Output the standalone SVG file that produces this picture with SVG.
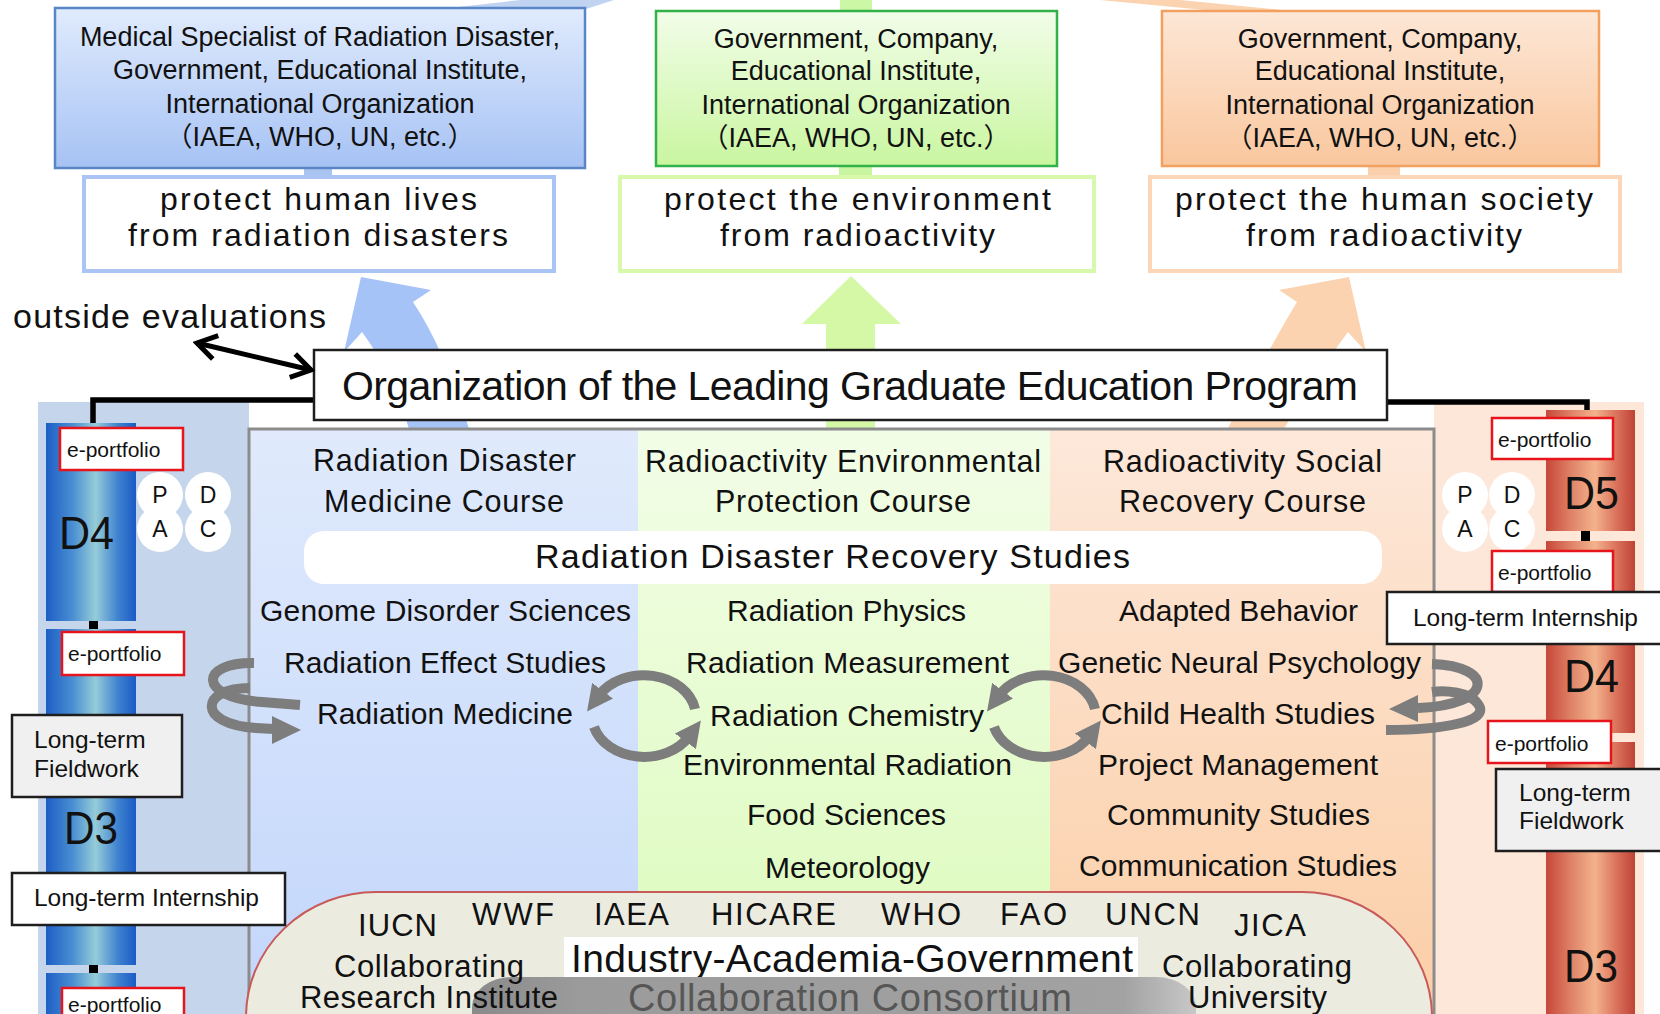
<svg xmlns="http://www.w3.org/2000/svg" width="1660" height="1014" viewBox="0 0 1660 1014">
<defs>
<linearGradient id="gBlueBox" x1="0" y1="0" x2="0" y2="1"><stop offset="0" stop-color="#e0ebfd"/><stop offset="1" stop-color="#a6c2f4"/></linearGradient>
<linearGradient id="gGreenBox" x1="0" y1="0" x2="0" y2="1"><stop offset="0" stop-color="#f2fde9"/><stop offset="1" stop-color="#c9f6a0"/></linearGradient>
<linearGradient id="gOrangeBox" x1="0" y1="0" x2="0" y2="1"><stop offset="0" stop-color="#fde7d6"/><stop offset="1" stop-color="#f9c79e"/></linearGradient>
<linearGradient id="gColB" x1="0" y1="0" x2="0" y2="1"><stop offset="0" stop-color="#e0eafc"/><stop offset="1" stop-color="#c2d6fb"/></linearGradient>
<linearGradient id="gColG" x1="0" y1="0" x2="0" y2="1"><stop offset="0" stop-color="#f2fde7"/><stop offset="1" stop-color="#dcfbbb"/></linearGradient>
<linearGradient id="gColO" x1="0" y1="0" x2="0" y2="1"><stop offset="0" stop-color="#fde8da"/><stop offset="1" stop-color="#fbcea6"/></linearGradient>
<linearGradient id="gBarB" x1="0" y1="0" x2="1" y2="0"><stop offset="0" stop-color="#1d5ec6"/><stop offset="0.3" stop-color="#4a8fd2"/><stop offset="0.55" stop-color="#96ccd8"/><stop offset="0.8" stop-color="#3e82d0"/><stop offset="1" stop-color="#1b5bc4"/></linearGradient>
<linearGradient id="gBarR" x1="0" y1="0" x2="1" y2="0"><stop offset="0" stop-color="#c7473a"/><stop offset="0.3" stop-color="#e0866a"/><stop offset="0.55" stop-color="#f3b28c"/><stop offset="0.8" stop-color="#d9705a"/><stop offset="1" stop-color="#bf4236"/></linearGradient>
<linearGradient id="gBand" x1="0" y1="0" x2="1" y2="0"><stop offset="0" stop-color="#8a8a8a"/><stop offset="0.15" stop-color="#9b9b9b"/><stop offset="0.9" stop-color="#a2a2a2"/><stop offset="1" stop-color="#c8c8c8"/></linearGradient>
<marker id="ah" markerUnits="userSpaceOnUse" markerWidth="26" markerHeight="26" viewBox="0 0 26 26" refX="6" refY="13" orient="auto"><path d="M0,0 L26,13 L0,26 Z" fill="#7d7d7d"/></marker>
<marker id="chev" markerUnits="userSpaceOnUse" markerWidth="26" markerHeight="30" viewBox="0 0 26 30" refX="22" refY="15" orient="auto-start-reverse"><path d="M3,3 L22,15 L3,27" fill="none" stroke="#000" stroke-width="5" stroke-linejoin="miter"/></marker>
</defs>
<style>
.tx{font-family:"Liberation Sans",Arial,sans-serif;fill:#111}
.cjk{font-family:"Liberation Sans","Noto Sans CJK JP",sans-serif}
.org{font-size:27px;text-anchor:middle}
.goal{font-size:32px}
.head{font-size:30.5px}
.item{font-size:30px}
.ep{font-size:21px}
.lt{font-size:24.5px}
.dl{font-size:46px}
.pdca{font-size:23px;text-anchor:middle}
.abbr{font-size:31px}
.collab{font-size:31px}
.epbox{fill:#fff;stroke:#e8141c;stroke-width:2.5}
.ltbox{stroke:#1e1e1e;stroke-width:2.5}
.cyc{fill:none;stroke:#7d7d7d;stroke-width:10}
.pc{fill:#fff}
</style>
<rect width="1660" height="1014" fill="#fff"/>

<!-- background arrow fragments and strips -->
<g id="arrow-fragments">
<polygon points="440,9 520,0 614,0 586,9" fill="#c0d4f2"/>
<rect x="840" y="0" width="32" height="12" fill="#ccf7a4"/>
<polygon points="1100,0 1180,0 1282,10 1205,10" fill="#fbd3b1"/>
<rect x="304" y="164" width="28" height="15" fill="#a9c4f0"/>
<rect x="839" y="164" width="33" height="15" fill="#c9f5a0"/>
<rect x="1368" y="164" width="32" height="15" fill="#fbd0ac"/>
</g>

<g id="node-top-blue">
<rect x="55" y="8" width="530" height="160" fill="url(#gBlueBox)" stroke="#5a86c8" stroke-width="2.5"/>
<text class="tx org" x="320" y="46">Medical Specialist of Radiation Disaster,</text>
<text class="tx org" x="320" y="79">Government, Educational Institute,</text>
<text class="tx org" x="320" y="113">International Organization</text>
<text class="tx org cjk" x="320" y="146">（IAEA, WHO, UN, etc.）</text>
</g>
<g id="node-top-green">
<rect x="656" y="11" width="401" height="155" fill="url(#gGreenBox)" stroke="#33b24a" stroke-width="2.5"/>
<text class="tx org" x="856" y="48">Government, Company,</text>
<text class="tx org" x="856" y="80">Educational Institute,</text>
<text class="tx org" x="856" y="114">International Organization</text>
<text class="tx org cjk" x="856" y="147">（IAEA, WHO, UN, etc.）</text>
</g>
<g id="node-top-orange">
<rect x="1162" y="11" width="437" height="155" fill="url(#gOrangeBox)" stroke="#f2a060" stroke-width="2.5"/>
<text class="tx org" x="1380" y="48">Government, Company,</text>
<text class="tx org" x="1380" y="80">Educational Institute,</text>
<text class="tx org" x="1380" y="114">International Organization</text>
<text class="tx org cjk" x="1380" y="147">（IAEA, WHO, UN, etc.）</text>
</g>

<g id="node-goal-blue">
<rect x="84" y="177" width="470" height="94" fill="#fff" stroke="#a9c4f5" stroke-width="4"/>
<text class="tx goal" x="160" y="210" textLength="317">protect human lives</text>
<text class="tx goal" x="128" y="246" textLength="380">from radiation disasters</text>
</g>
<g id="node-goal-green">
<rect x="620" y="177" width="474" height="94" fill="#fff" stroke="#d8f9ab" stroke-width="4"/>
<text class="tx goal" x="664" y="210" textLength="387">protect the environment</text>
<text class="tx goal" x="720" y="246" textLength="275">from radioactivity</text>
</g>
<g id="node-goal-orange">
<rect x="1150" y="177" width="470" height="94" fill="#fff" stroke="#fcd6b6" stroke-width="4"/>
<text class="tx goal" x="1175" y="210" textLength="418">protect the human society</text>
<text class="tx goal" x="1246" y="246" textLength="276">from radioactivity</text>
</g>

<g id="node-outside">
<text class="tx" x="13" y="328" font-size="34" textLength="313">outside evaluations</text>
</g>

<!-- big upward arrows -->
<g id="connectors-up">
<path d="M361,277 L431,290 L413,302 Q445,350 470,432 L410,432 Q392,372 362,332 L344,352 Z" fill="#a6c3f7"/>
<polygon points="851,276 901,324 875,324 875,432 826,432 826,324 802,324" fill="#d4f8a6"/>
<path d="M1349,277 L1279,290 L1297,302 Q1268,350 1226,432 L1282,432 Q1318,372 1348,332 L1366,352 Z" fill="#fbd3b1"/>
</g>

<!-- panels and columns -->
<g id="panels">
<rect x="38" y="402" width="211" height="620" fill="#c5d5eb"/>
<rect x="1434" y="402" width="210" height="620" fill="#fde7d9"/>
<rect x="249" y="429" width="389" height="590" fill="url(#gColB)"/>
<rect x="638" y="429" width="412" height="590" fill="url(#gColG)"/>
<rect x="1050" y="429" width="384" height="590" fill="url(#gColO)"/>
<rect x="249" y="429" width="1185" height="600" fill="none" stroke="#8c8c8c" stroke-width="3"/>
</g>

<g id="connectors-lines">
<path d="M314,400 H93 V424" fill="none" stroke="#000" stroke-width="5.5"/>
<path d="M1387,402 H1587 V412" fill="none" stroke="#000" stroke-width="5.5"/>
</g>

<g id="node-program">
<rect x="314" y="350" width="1073" height="70" fill="#fff" stroke="#1e1e1e" stroke-width="2.5"/>
<text class="tx" x="342" y="400" font-size="41" textLength="1016">Organization of the Leading Graduate Education Program</text>
</g>

<!-- D bars -->
<g id="node-bar-left">
<rect x="46" y="423" width="90" height="198" fill="url(#gBarB)"/>
<rect x="89" y="621" width="9" height="8" fill="#000"/>
<rect x="46" y="629" width="90" height="336" fill="url(#gBarB)"/>
<rect x="89" y="965" width="9" height="8" fill="#000"/>
<rect x="46" y="973" width="90" height="45" fill="url(#gBarB)"/>
<text class="tx dl" x="59" y="549" textLength="55" lengthAdjust="spacingAndGlyphs">D4</text>
<text class="tx dl" x="64" y="844" textLength="54" lengthAdjust="spacingAndGlyphs">D3</text>
</g>
<g id="node-bar-right">
<rect x="1546" y="410" width="89" height="121" fill="url(#gBarR)"/>
<rect x="1581" y="531" width="9" height="10" fill="#000"/>
<rect x="1546" y="541" width="89" height="192" fill="url(#gBarR)"/>
<rect x="1546" y="742" width="89" height="276" fill="url(#gBarR)"/>
<text class="tx dl" x="1564" y="509" textLength="55" lengthAdjust="spacingAndGlyphs">D5</text>
<text class="tx dl" x="1564" y="692" textLength="55" lengthAdjust="spacingAndGlyphs">D4</text>
<text class="tx dl" x="1564" y="982" textLength="54" lengthAdjust="spacingAndGlyphs">D3</text>
</g>

<!-- collaboration area -->
<g id="node-consortium">
<rect x="246" y="892" width="1186" height="320" rx="130" ry="125" fill="#ecebe0" stroke="#c85a5a" stroke-width="2"/>
<text class="tx abbr" x="358" y="936" textLength="79">IUCN</text>
<text class="tx abbr" x="472" y="925" textLength="82">WWF</text>
<text class="tx abbr" x="594" y="925" textLength="75">IAEA</text>
<text class="tx abbr" x="711" y="925" textLength="125">HICARE</text>
<text class="tx abbr" x="881" y="925" textLength="80">WHO</text>
<text class="tx abbr" x="1000" y="925" textLength="67">FAO</text>
<text class="tx abbr" x="1105" y="925" textLength="95">UNCN</text>
<text class="tx abbr" x="1234" y="936" textLength="72">JICA</text>
<rect x="564" y="937" width="574" height="45" fill="#fff"/>
<text class="tx" x="571" y="972" font-size="39" textLength="562">Industry-Academia-Government</text>
<rect x="472" y="977" width="724" height="70" rx="40" ry="30" fill="url(#gBand)"/>
<text class="tx" x="628" y="1011" font-size="38" textLength="444" style="fill:#565656">Collaboration Consortium</text>
<text class="tx collab" x="334" y="977" textLength="190">Collaborating</text>
<text class="tx collab" x="300" y="1008" textLength="258">Research Institute</text>
<text class="tx collab" x="1162" y="977" textLength="190">Collaborating</text>
<text class="tx collab" x="1188" y="1008" textLength="139">University</text>
</g>

<g id="node-course-blue">
<text class="tx head" x="313" y="471" textLength="263">Radiation Disaster</text>
<text class="tx head" x="324" y="512" textLength="240">Medicine Course</text>
</g>
<g id="node-course-green">
<text class="tx head" x="645" y="472" textLength="396">Radioactivity Environmental</text>
<text class="tx head" x="715" y="512" textLength="256">Protection Course</text>
</g>
<g id="node-course-orange">
<text class="tx head" x="1103" y="472" textLength="279">Radioactivity Social</text>
<text class="tx head" x="1119" y="512" textLength="247">Recovery Course</text>
</g>
<g id="node-studies">
<rect x="304" y="531" width="1078" height="53" rx="20" fill="#fff"/>
<text class="tx" x="535" y="568" font-size="34" textLength="595">Radiation Disaster Recovery Studies</text>
</g>
<g id="node-items-blue">
<text class="tx item" x="260" y="621" textLength="371">Genome Disorder Sciences</text>
<text class="tx item" x="284" y="673" textLength="322">Radiation Effect Studies</text>
<text class="tx item" x="317" y="724" textLength="256">Radiation Medicine</text>
</g>
<g id="node-items-green">
<text class="tx item" x="727" y="621" textLength="239">Radiation Physics</text>
<text class="tx item" x="686" y="673" textLength="323">Radiation Measurement</text>
<text class="tx item" x="710" y="726" textLength="274">Radiation Chemistry</text>
<text class="tx item" x="683" y="775" textLength="329">Environmental Radiation</text>
<text class="tx item" x="747" y="825" textLength="199">Food Sciences</text>
<text class="tx item" x="765" y="878" textLength="165">Meteorology</text>
</g>
<g id="node-items-orange">
<text class="tx item" x="1119" y="621" textLength="239">Adapted Behavior</text>
<text class="tx item" x="1058" y="673" textLength="363">Genetic Neural Psychology</text>
<text class="tx item" x="1101" y="724" textLength="274">Child Health Studies</text>
<text class="tx item" x="1098" y="775" textLength="280">Project Management</text>
<text class="tx item" x="1107" y="825" textLength="263">Community Studies</text>
<text class="tx item" x="1079" y="876" textLength="318">Communication Studies</text>
</g>

<!-- cycle connectors -->
<g id="connectors-cycles">
<path class="cyc" d="M254,663 C200,662 196,697 262,702 L300,705"/>
<path class="cyc" d="M250,688 C200,688 196,724 256,728 L274,729"/>
<polygon points="301,730 272,716 272,744" fill="#7d7d7d"/>
<path class="cyc" d="M695,709 A52,41 0 0 0 599,695.5" marker-end="url(#ah)"/>
<path class="cyc" d="M594,727 A52,41 0 0 0 689,736.5" marker-end="url(#ah)"/>
<path class="cyc" d="M1095,709 A52,41 0 0 0 999,695.5" marker-end="url(#ah)"/>
<path class="cyc" d="M994,727 A52,41 0 0 0 1089,736.5" marker-end="url(#ah)"/>
<path class="cyc" d="M1432,664 C1495,666 1495,705 1418,708"/>
<polygon points="1389,709 1418,695 1418,722" fill="#7d7d7d"/>
<path class="cyc" d="M1386,730 C1440,730 1492,722 1478,704 C1470,692 1445,690 1432,692"/>
</g>

<!-- left side labels -->
<g id="node-eport-l1"><rect class="epbox" x="60" y="428" width="123" height="42"/><text class="tx ep" x="67" y="457">e-portfolio</text></g>
<g id="node-pdca-l">
<circle class="pc" cx="160" cy="495" r="23"/><circle class="pc" cx="208" cy="495" r="23"/><circle class="pc" cx="160" cy="529" r="23"/><circle class="pc" cx="208" cy="529" r="23"/>
<text class="tx pdca" x="160" y="503">P</text><text class="tx pdca" x="208" y="503">D</text><text class="tx pdca" x="160" y="537">A</text><text class="tx pdca" x="208" y="537">C</text>
</g>
<g id="node-eport-l2"><rect class="epbox" x="62" y="632" width="122" height="43"/><text class="tx ep" x="68" y="661">e-portfolio</text></g>
<g id="node-field-l"><rect class="ltbox" x="12" y="715" width="170" height="82" fill="#f0f0f0"/><text class="tx lt" x="34" y="748">Long-term</text><text class="tx lt" x="34" y="777">Fieldwork</text></g>
<g id="node-intern-l"><rect class="ltbox" x="12" y="873" width="273" height="52" fill="#fff"/><text class="tx lt" x="34" y="906" textLength="225">Long-term Internship</text></g>
<g id="node-eport-l3"><rect class="epbox" x="62" y="988" width="122" height="43"/><text class="tx ep" x="68" y="1012">e-portfolio</text></g>

<!-- right side labels -->
<g id="node-eport-r1"><rect class="epbox" x="1492" y="418" width="121" height="41"/><text class="tx ep" x="1498" y="447">e-portfolio</text></g>
<g id="node-pdca-r">
<circle class="pc" cx="1465" cy="495" r="23"/><circle class="pc" cx="1512" cy="495" r="23"/><circle class="pc" cx="1465" cy="529" r="23"/><circle class="pc" cx="1512" cy="529" r="23"/>
<text class="tx pdca" x="1465" y="503">P</text><text class="tx pdca" x="1512" y="503">D</text><text class="tx pdca" x="1465" y="537">A</text><text class="tx pdca" x="1512" y="537">C</text>
</g>
<g id="node-eport-r2"><rect class="epbox" x="1492" y="551" width="121" height="41"/><text class="tx ep" x="1498" y="580">e-portfolio</text></g>
<g id="node-intern-r"><rect class="ltbox" x="1387" y="592" width="285" height="52" fill="#fff"/><text class="tx lt" x="1413" y="626" textLength="225">Long-term Internship</text></g>
<g id="node-eport-r3"><rect class="epbox" x="1488" y="721" width="123" height="42"/><text class="tx ep" x="1495" y="751">e-portfolio</text></g>
<g id="node-field-r"><rect class="ltbox" x="1496" y="769" width="175" height="82" fill="#f0f0f0"/><text class="tx lt" x="1519" y="801">Long-term</text><text class="tx lt" x="1519" y="829">Fieldwork</text></g>

<g id="connectors-eval">
<line x1="197" y1="343" x2="311" y2="370" stroke="#000" stroke-width="5" marker-start="url(#chev)" marker-end="url(#chev)"/>
</g>
</svg>
